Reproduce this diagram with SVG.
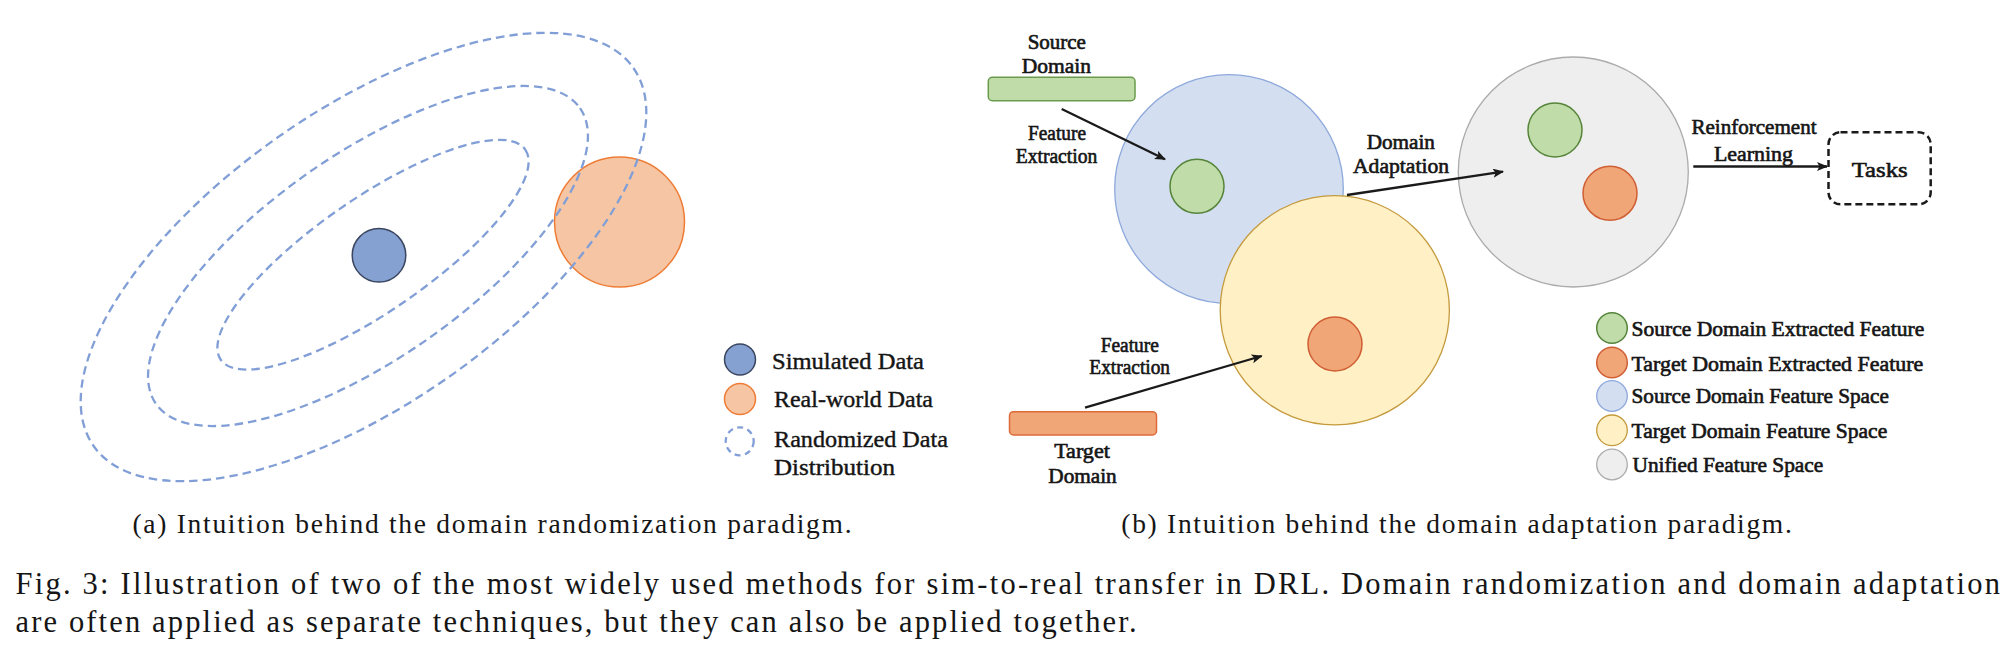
<svg xmlns="http://www.w3.org/2000/svg" width="2014" height="668" viewBox="0 0 2014 668">
<style>
  text { font-family: "Liberation Serif", "Times New Roman", serif; fill: #151515; }
  .lbl { font-size: 20px; text-anchor: middle; stroke: #151515; stroke-width: 0.6; }
  .leg { font-size: 20px; stroke: #151515; stroke-width: 0.6; }
  .lega { font-size: 22.5px; stroke: #151515; stroke-width: 0.4; }
  .cap { font-size: 27.5px; }
  .fig { font-size: 30.5px; }
  .dash { fill: none; stroke: #819FD6; stroke-width: 2.3; stroke-dasharray: 8.5 5; }
  .sim { fill: #84A1D2; stroke: #3B4660; stroke-width: 1.5; }
  .real { fill: #F6C6A4; stroke: #EE7C35; stroke-width: 1.5; }
  .srcsp { fill: #D4DEF1; stroke: #8EA9DB; stroke-width: 1.3; }
  .tgtsp { fill: #FFF0C6; stroke: #C49A3C; stroke-width: 1.3; }
  .uni { fill: #EEEEEE; stroke: #ABABAB; stroke-width: 1.3; }
  .srcf { fill: #C0DCA9; stroke: #56843A; stroke-width: 1.5; }
  .tgtf { fill: #F0A677; stroke: #D05F34; stroke-width: 1.5; }
  .conn { fill: none; stroke: #1A1A1A; stroke-width: 2.3; marker-end: url(#ah); }
</style>
<defs>
  <marker id="ah" markerUnits="userSpaceOnUse" markerWidth="12" markerHeight="10" refX="10" refY="4.5" orient="auto">
    <path d="M0,0 L11,4.5 L0,9 L2.5,4.5 z" fill="#1A1A1A"/>
  </marker>
</defs>

<!-- (a) domain randomization -->
<g id="real-world"><circle class="real" cx="619.5" cy="222" r="65"/></g>
<g id="randomized-outer"><ellipse class="dash" cx="363.5" cy="257" rx="329.5" ry="147.2" transform="rotate(-35 363.5 257)"/></g>
<g id="randomized-middle"><ellipse class="dash" cx="368" cy="256" rx="258.5" ry="102.3" transform="rotate(-34.9 368 256)"/></g>
<g id="randomized-inner"><ellipse class="dash" cx="373" cy="254.7" rx="185" ry="56.6" transform="rotate(-34.6 373 254.7)"/></g>
<g id="simulated"><circle class="sim" cx="379" cy="255.3" r="26.8"/></g>

<g id="legend-a">
  <circle class="sim" cx="740" cy="359.5" r="15.5"/>
  <text class="lega" x="772" y="369.3" textLength="152" lengthAdjust="spacingAndGlyphs">Simulated Data</text>
  <circle class="real" cx="740" cy="399" r="15.5"/>
  <text class="lega" x="774" y="406.7" textLength="159" lengthAdjust="spacingAndGlyphs">Real-world Data</text>
  <circle cx="739.7" cy="441.3" r="14" fill="none" stroke="#819FD6" stroke-width="2.3" stroke-dasharray="6 4.5"/>
  <text class="lega" x="774" y="447.3" textLength="174" lengthAdjust="spacingAndGlyphs">Randomized Data</text>
  <text class="lega" x="774" y="475" textLength="121" lengthAdjust="spacingAndGlyphs">Distribution</text>
</g>

<!-- (b) domain adaptation -->
<g id="source-feature-space"><circle class="srcsp" cx="1229" cy="189" r="114.3"/></g>
<g id="target-feature-space"><circle class="tgtsp" cx="1334.8" cy="310.3" r="114.6"/></g>
<g id="unified-feature-space"><circle class="uni" cx="1573.3" cy="172" r="115"/></g>
<g id="source-extracted-feature"><circle class="srcf" cx="1197" cy="186.3" r="27"/></g>
<g id="target-extracted-feature"><circle class="tgtf" cx="1335" cy="344" r="27"/></g>
<g id="unified-source-feature"><circle class="srcf" cx="1555" cy="130" r="27"/></g>
<g id="unified-target-feature"><circle class="tgtf" cx="1610" cy="193.3" r="27"/></g>

<g id="source-domain">
  <rect x="988.3" y="77.3" width="146.7" height="23.4" rx="4" fill="#C0DCA9" stroke="#6A9B4C" stroke-width="1.5"/>
  <text class="lbl" x="1056.8" y="49.3" textLength="58.3" lengthAdjust="spacingAndGlyphs">Source</text>
  <text class="lbl" x="1056.3" y="73.3" textLength="69.3" lengthAdjust="spacingAndGlyphs">Domain</text>
</g>
<g id="target-domain">
  <rect x="1009.5" y="411.7" width="147" height="23.3" rx="4" fill="#F0A677" stroke="#DE6A3A" stroke-width="1.5"/>
  <text class="lbl" x="1082" y="457.7" textLength="55.7" lengthAdjust="spacingAndGlyphs">Target</text>
  <text class="lbl" x="1082.5" y="483.3" textLength="68.4" lengthAdjust="spacingAndGlyphs">Domain</text>
</g>
<g id="tasks">
  <rect x="1828.5" y="132.3" width="102.2" height="72" rx="12" fill="none" stroke="#1A1A1A" stroke-width="2.5" stroke-dasharray="7 4"/>
  <text class="lbl" x="1879.7" y="176.7" style="font-size:22px" textLength="56" lengthAdjust="spacingAndGlyphs">Tasks</text>
</g>

<g id="connectors">
  <line class="conn" x1="1061.7" y1="109" x2="1165" y2="159.3"/>
  <line class="conn" x1="1085" y1="407.7" x2="1261.7" y2="356"/>
  <line class="conn" x1="1347" y1="195" x2="1503" y2="171.7"/>
  <line class="conn" x1="1693.3" y1="166.5" x2="1827" y2="166.5"/>
  <text class="lbl" x="1057" y="140" textLength="58" lengthAdjust="spacingAndGlyphs">Feature</text>
  <text class="lbl" x="1056.5" y="162.7" textLength="81.6" lengthAdjust="spacingAndGlyphs">Extraction</text>
  <text class="lbl" x="1129.8" y="352.3" textLength="58.3" lengthAdjust="spacingAndGlyphs">Feature</text>
  <text class="lbl" x="1129.7" y="374.3" textLength="80.7" lengthAdjust="spacingAndGlyphs">Extraction</text>
  <text class="lbl" x="1400.8" y="149" textLength="68.3" lengthAdjust="spacingAndGlyphs">Domain</text>
  <text class="lbl" x="1401" y="173.3" textLength="96" lengthAdjust="spacingAndGlyphs">Adaptation</text>
  <text class="lbl" x="1754" y="134.3" textLength="125" lengthAdjust="spacingAndGlyphs">Reinforcement</text>
  <text class="lbl" x="1753.5" y="161" textLength="79" lengthAdjust="spacingAndGlyphs">Learning</text>
</g>

<g id="legend-b">
  <circle class="srcf" cx="1612" cy="328" r="15.3"/>
  <text class="leg" x="1631.5" y="336" textLength="292.7" lengthAdjust="spacingAndGlyphs">Source Domain Extracted Feature</text>
  <circle class="tgtf" cx="1612" cy="362.5" r="15.3"/>
  <text class="leg" x="1631.5" y="370.7" textLength="291.7" lengthAdjust="spacingAndGlyphs">Target Domain Extracted Feature</text>
  <circle class="srcsp" cx="1612" cy="396" r="15.3" stroke-width="1.5"/>
  <text class="leg" x="1631.5" y="403.3" textLength="257.3" lengthAdjust="spacingAndGlyphs">Source Domain Feature Space</text>
  <circle class="tgtsp" cx="1612" cy="430.3" r="15.3" stroke-width="1.5"/>
  <text class="leg" x="1631.5" y="437.7" textLength="255.7" lengthAdjust="spacingAndGlyphs">Target Domain Feature Space</text>
  <circle class="uni" cx="1612" cy="464.5" r="15.3" stroke-width="1.5"/>
  <text class="leg" x="1632.5" y="471.7" textLength="190.7" lengthAdjust="spacingAndGlyphs">Unified Feature Space</text>
</g>

<g id="captions">
  <text class="cap" x="132.5" y="533.3" textLength="719" lengthAdjust="spacing">(a) Intuition behind the domain randomization paradigm.</text>
  <text class="cap" x="1121.3" y="533.3" textLength="670.5" lengthAdjust="spacing">(b) Intuition behind the domain adaptation paradigm.</text>
  <text class="fig" x="15.5" y="594.3" textLength="1984.5" lengthAdjust="spacing">Fig. 3: Illustration of two of the most widely used methods for sim-to-real transfer in DRL. Domain randomization and domain adaptation</text>
  <text class="fig" x="15.5" y="631.7" textLength="1121" lengthAdjust="spacing">are often applied as separate techniques, but they can also be applied together.</text>
</g>
</svg>
